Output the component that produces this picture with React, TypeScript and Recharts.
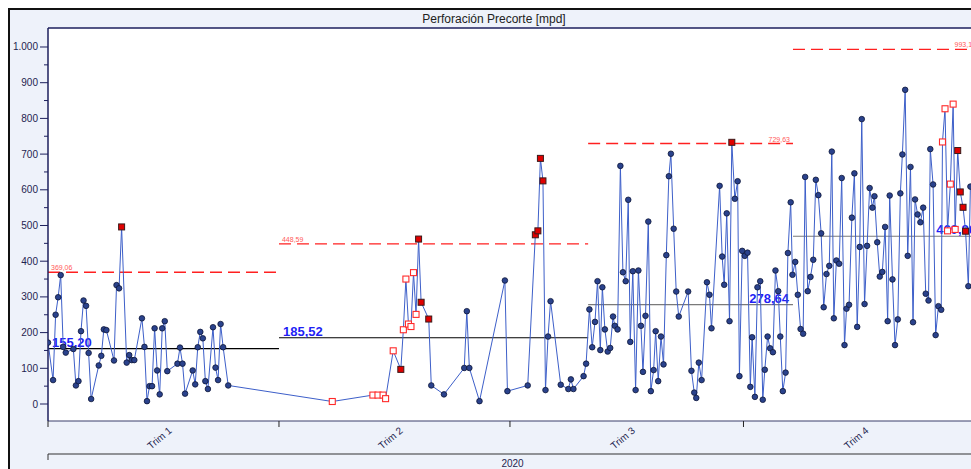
import { ComposedChart, Line, XAxis, YAxis, CartesianGrid, ReferenceLine } from 'recharts';

// Perforación Precorte [mpd] - daily values per control period
const p1Days = [0, 2, 3, 4, 5, 6, 7, 10, 11, 12, 13, 14, 15, 16, 17, 20, 21, 22, 23, 26, 27, 28, 29, 31, 32, 33, 34, 37, 38, 39, 40, 41, 42, 43, 44, 45, 46, 47, 51, 52, 53, 54, 57, 58, 59, 60, 61, 62, 63, 65, 66, 67, 68, 69, 71];
const p1Values = [172, 67, 250, 299, 361, 160, 144, 154, 52, 64, 204, 290, 275, 143, 14, 108, 135, 209, 207, 122, 333, 324, 496, 116, 137, 123, 123, 240, 160, 8, 50, 50, 212, 94, 27, 212, 232, 92, 113, 158, 113, 29, 94, 55, 159, 202, 184, 64, 42, 215, 102, 67, 224, 159, 52];

const p2Days = [112, 128, 130, 132, 133, 136, 139, 140, 141, 142, 143, 144, 145, 146, 147, 150, 151, 156, 164, 165, 166, 170, 180, 181, 189, 192, 193, 194, 195, 196, 197, 198, 202, 205, 206, 207, 211, 212];
const p2Values = [7, 25, 25, 25, 15, 149, 97, 208, 350, 224, 217, 368, 251, 462, 285, 238, 52, 27, 101, 260, 101, 8, 346, 36, 52, 474, 485, 688, 625, 39, 189, 288, 54, 42, 69, 42, 78, 113];

const p3Days = [213.3, 214.4, 215.5, 216.5, 217.6, 218.4, 219.4, 220.5, 221.5, 222.6, 223.3, 224.4, 225.5, 226.5, 227.6, 228.6, 229.4, 230.4, 231.5, 232.6, 233.6, 234.4, 235.4, 236.5, 237.5, 238.6, 239.4, 240.4, 241.5, 242.5, 243.6, 244.6, 245.4, 246.5, 247.5, 248.5, 252.2, 253.5, 254.6, 255.4, 256.4, 257.5, 259.6, 260.6, 261.4, 264.6, 265.6, 266.4, 267.4, 268.5, 269.4, 270.6, 271.7, 272.4, 273.5, 274.5, 275.6, 276.7, 277.4, 278.5, 279.5, 280.6, 281.6, 282.4, 283.5, 284.5, 285.6, 286.6, 287.7, 288.5, 289.5, 290.6, 291.5, 292.6];
const p3Values = [265, 159, 230, 344, 151, 327, 209, 147, 157, 245, 219, 209, 667, 369, 344, 572, 174, 372, 39, 374, 219, 90, 247, 511, 36, 95, 204, 64, 189, 111, 417, 638, 701, 491, 315, 245, 315, 93, 32, 17, 116, 67, 341, 306, 212, 611, 413, 334, 534, 232, 733, 575, 624, 78, 429, 415, 424, 48, 187, 20, 327, 344, 12, 96, 189, 156, 145, 374, 316, 189, 36, 88, 423, 565];

const p4Days = [293.3, 294.4, 295.4, 296.5, 297.5, 298.3, 299.3, 300.4, 301.5, 302.5, 303.5, 304.6, 305.6, 306.7, 307.8, 308.8, 309.6, 310.6, 311.7, 312.7, 313.8, 314.6, 315.6, 316.7, 317.7, 318.8, 319.8, 320.6, 321.7, 322.7, 323.7, 324.8, 325.6, 326.7, 327.7, 328.7, 329.8, 330.8, 331.6, 332.7, 333.7, 334.8, 335.8, 336.6, 337.7, 338.7, 339.8, 340.8, 341.6, 342.6, 343.7, 344.8, 345.8, 346.9, 347.6, 348.7, 349.7, 350.8, 351.9, 352.4, 353.4, 354.4, 355.5, 356.6, 357.4, 358.4, 359.4, 360.5, 361.5, 362.6, 363.4];
const p4Values = [362, 398, 306, 210, 197, 636, 316, 356, 404, 628, 585, 478, 271, 364, 387, 707, 240, 402, 393, 633, 165, 267, 278, 522, 646, 216, 440, 798, 280, 443, 605, 550, 582, 453, 357, 370, 496, 232, 584, 349, 165, 237, 590, 699, 880, 415, 664, 229, 573, 531, 509, 550, 309, 290, 714, 615, 193, 274, 264, 734, 827, 485, 616, 840, 489, 710, 594, 551, 484, 330, 609];

// points flagged by the control rules
const openDays = [112, 128, 130, 132, 133, 136, 140, 141, 142, 143, 144, 145, 352.4, 353.4, 354.4, 355.5, 356.6, 357.4];
const alarmDays = [29, 139, 146, 147, 150, 192, 193, 194, 195, 269.4, 358.4, 359.4, 360.5, 361.5];

// control periods
const periodStart = [0, 91, 212.8, 293.5];
const periodEnd = [91, 212.8, 293.5, 366];
const periodMean = [155.2, 185.52, 278.64, 469.86];
const periodUcl = [369.06, 448.59, 729.63, 993.13];
const meanColors = ['#000000', '#000000', '#7a7a7a', '#7a7a7a'];
const labelAlign = ['start', 'start', 'end', 'end'];

const quarterTicks = [0, 91, 182, 274, 366];
const quarterMids = [45.5, 136.5, 228, 320];
const quarterLabels = ['Trim 1', 'Trim 2', 'Trim 3', 'Trim 4'];
const yearLabel = '2020';
const yTicks = Array.from({ length: 21 }, (_, i) => i * 50);

const NAVY = '#1c1f5c';
const PLOT_W = 929;
const FONT = '"Liberation Sans", Arial, sans-serif';

const rows = [
  ...p1Days.map((d, i) => ({ day: d, value: p1Values[i] })),
  ...p2Days.map((d, i) => ({ day: d, value: p2Values[i] })),
  ...p3Days.map((d, i) => ({ day: d, value: p3Values[i] })),
  ...p4Days.map((d, i) => ({ day: d, value: p4Values[i] })),
].map((r) => ({
  ...r,
  flag: alarmDays.includes(r.day) ? 'alarm' : openDays.includes(r.day) ? 'open' : 'ok',
}));

const fmt = (v: number) => (v >= 1000 ? `${Math.floor(v / 1000)}.${String(v % 1000).padStart(3, '0')}` : String(v));
const comma = (v: number) => v.toFixed(2).replace('.', ',');

const renderDot = (props: any) => {
  const { cx, cy, payload, index } = props;
  if (cx == null || cy == null) return <g key={index} />;
  if (payload.flag === 'alarm')
    return <rect key={index} x={cx - 3} y={cy - 3} width={6} height={6} fill="#e00000" stroke="#3a1a1a" strokeWidth={1} />;
  if (payload.flag === 'open')
    return <rect key={index} x={cx - 3} y={cy - 3} width={6} height={6} fill="#ffffff" stroke="#ff2a2a" strokeWidth={1.1} />;
  return <circle key={index} cx={cx} cy={cy} r={2.8} fill="#2a428c" stroke="#0e1638" strokeWidth={0.8} />;
};

const YTick = ({ x, y, payload }: any) => {
  const major = payload.value % 100 === 0;
  return (
    <g>
      <line x1={x - (major ? 8 : 4)} x2={x} y1={y} y2={y} stroke={NAVY} />
      {major && (
        <text x={x - 10} y={y} dy={3.5} textAnchor="end" fontSize={10} fill="#1e2450" fontFamily={FONT}>
          {fmt(payload.value)}
        </text>
      )}
    </g>
  );
};

const XTick = ({ x, y, payload }: any) => {
  const v = payload.value;
  const idx = quarterMids.indexOf(v);
  if (idx >= 0)
    return (
      <text
        transform={`translate(${x - 4},${y + 17}) rotate(-40)`}
        textAnchor="middle"
        dominantBaseline="central"
        fontSize={10}
        fill="#1e2450"
        fontFamily={FONT}
      >
        {quarterLabels[idx]}
      </text>
    );
  return (
    <g>
      <line x1={x} x2={x} y1={y} y2={y + 6} stroke="#222" />
      {v === 0 && (
        <g>
          <line x1={x} x2={x + PLOT_W} y1={y + 33} y2={y + 33} stroke="#333" />
          <line x1={x} x2={x} y1={y + 33} y2={y + 39} stroke="#333" />
          <text x={x + PLOT_W / 2} y={y + 46} textAnchor="middle" fontSize={10} fill="#1e2450" fontFamily={FONT}>
            {yearLabel}
          </text>
        </g>
      )}
    </g>
  );
};

const makeLabel = (text: string, align: string, color: string, size: number, bold: boolean, pad: number) =>
  (props: any) => {
    const vb = props.viewBox || {};
    const x = align === 'start' ? vb.x + pad : vb.x + vb.width - pad;
    return (
      <text
        x={x}
        y={vb.y - 2}
        textAnchor={align}
        fontSize={size}
        fontWeight={bold ? 'bold' : 'normal'}
        fill={color}
        fontFamily={FONT}
      >
        {text}
      </text>
    );
  };

export default function App() {
  return (
    <div
      style={{
        position: 'fixed',
        left: 8,
        top: 8,
        width: 963,
        height: 461,
        overflow: 'hidden',
        background: '#eef2fa',
        borderTop: '2px solid #111',
        borderLeft: '2px solid #111',
        boxSizing: 'border-box',
      }}
    >
      <div
        style={{
          position: 'absolute',
          left: 0,
          top: 0,
          width: 968,
          height: 18,
          lineHeight: '18px',
          textAlign: 'center',
          fontFamily: FONT,
          fontSize: 12,
          color: '#222',
        }}
      >
        Perforación Precorte [mpd]
      </div>
      <div style={{ position: 'absolute', left: 0, top: 0 }}>
        <ComposedChart width={1000} height={459} data={rows} margin={{ top: 18, right: 33, bottom: 0, left: 0 }}>
          <CartesianGrid fill="#ffffff" stroke="none" horizontal={false} vertical={false} />
          <XAxis
            dataKey="day"
            type="number"
            domain={[0, 366]}
            ticks={[...quarterTicks, ...quarterMids].sort((a, b) => a - b)}
            interval={0}
            tick={<XTick />}
            tickLine={false}
            tickSize={0}
            tickMargin={0}
            height={48}
            axisLine={{ stroke: '#3a3f6a' }}
            allowDataOverflow
          />
          <YAxis
            type="number"
            domain={[-47.6, 1053.2]}
            ticks={yTicks}
            interval={0}
            tick={<YTick />}
            tickLine={false}
            tickSize={0}
            tickMargin={0}
            width={38}
            axisLine={{ stroke: NAVY, strokeWidth: 1.5 }}
            allowDataOverflow
          />
          <ReferenceLine y={1053.2} stroke={NAVY} strokeWidth={1.5} ifOverflow="visible" />
          {periodStart.map((s, i) => (
            <ReferenceLine
              key={`ucl${i}`}
              segment={[{ x: s, y: periodUcl[i] }, { x: periodEnd[i], y: periodUcl[i] }]}
              stroke="#ff2020"
              strokeWidth={1.3}
              strokeDasharray="12 6"
              label={makeLabel(comma(periodUcl[i]), labelAlign[i], '#ff5a5a', 7, false, i === 3 ? 1 : 3)}
            />
          ))}
          {periodStart.map((s, i) => (
            <ReferenceLine
              key={`mean${i}`}
              segment={[{ x: s, y: periodMean[i] }, { x: periodEnd[i], y: periodMean[i] }]}
              stroke={meanColors[i]}
              strokeWidth={1.2}
              label={makeLabel(comma(periodMean[i]), labelAlign[i], '#1f1ff5', 13, true, i === 3 ? 1 : 4)}
            />
          ))}
          <Line
            type="linear"
            dataKey="value"
            stroke="#3d5fc9"
            strokeWidth={1}
            dot={renderDot}
            activeDot={false}
            isAnimationActive={false}
          />
        </ComposedChart>
      </div>
    </div>
  );
}
